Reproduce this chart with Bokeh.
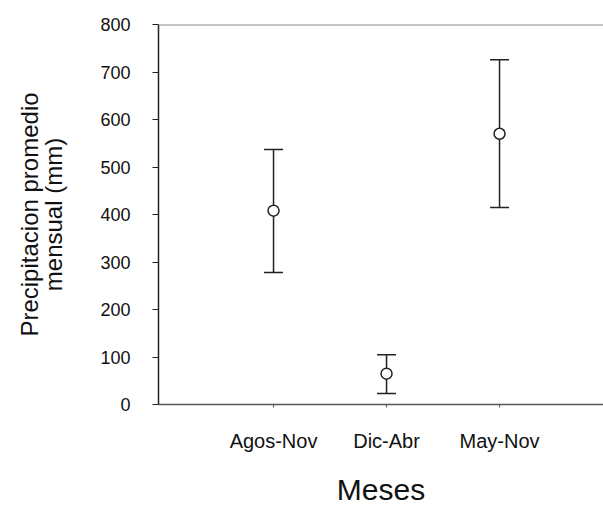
from bokeh.plotting import figure
from bokeh.models import Range1d, FixedTicker, Whisker, TeeHead, ColumnDataSource, Span
from bokeh.embed import file_html
from bokeh.resources import INLINE
import numpy as np

categories = ["Agos-Nov", "Dic-Abr", "May-Nov"]
means = [408, 65, 570]
upper = [537, 105, 726]
lower = [278, 23, 415]
y_ticks = [0, 100, 200, 300, 400, 500, 600, 700, 800]

xpos = list(np.arange(1, len(categories) + 1))
src = ColumnDataSource(dict(x=xpos, y=means, upper=upper, lower=lower))

FONT = "Liberation Sans"

p = figure(width=603, height=508, output_backend="svg", toolbar_location=None,
           x_range=Range1d(-0.018, 3.92), y_range=Range1d(0, 800),
           min_border_left=158, min_border_right=0, min_border_top=24, min_border_bottom=104)
p.outline_line_color = None
p.grid.visible = False
p.background_fill_color = "white"
p.border_fill_color = "white"

w = Whisker(source=src, base="x", upper="upper", lower="lower",
            line_color="#222222", line_width=1.5,
            upper_head=TeeHead(size=19, line_color="#222222", line_width=1.5),
            lower_head=TeeHead(size=19, line_color="#222222", line_width=1.5))
p.add_layout(w)
p.scatter("x", "y", source=src, marker="circle", size=11, fill_color="white",
          line_color="#222222", line_width=1.5)

p.add_layout(Span(location=800, dimension="width", line_color="#8a8a8a", line_width=2))

xa = p.xaxis[0]
xa.ticker = FixedTicker(ticks=xpos)
xa.major_label_overrides = {int(i): c for i, c in zip(xpos, categories)}
xa.minor_tick_line_color = None
xa.major_tick_out = 3
xa.major_tick_in = 0
xa.axis_line_color = "#555555"
xa.axis_line_width = 1.5
xa.major_tick_line_color = "#555555"
xa.major_label_text_font = FONT
xa.major_label_text_font_size = "20px"
xa.major_label_text_color = "#111111"
xa.major_label_standoff = 22
xa.axis_label = "Meses"
xa.axis_label_text_font = FONT
xa.axis_label_text_font_size = "30px"
xa.axis_label_text_font_style = "normal"
xa.axis_label_text_color = "#111111"
xa.axis_label_standoff = 18

ya = p.yaxis[0]
ya.ticker = FixedTicker(ticks=y_ticks)
ya.minor_tick_line_color = None
ya.major_tick_out = 6
ya.major_tick_in = 0
ya.axis_line_color = "#222222"
ya.axis_line_width = 1.5
ya.major_tick_line_color = "#222222"
ya.major_label_text_font = FONT
ya.major_label_text_font_size = "18px"
ya.major_label_text_color = "#111111"
ya.major_label_standoff = 22
ya.axis_label = "Precipitacion promedio\nmensual (mm)"
ya.axis_label_text_font = FONT
ya.axis_label_text_font_size = "24px"
ya.axis_label_text_font_style = "normal"
ya.axis_label_text_color = "#111111"
ya.axis_label_text_line_height = 0.9
ya.axis_label_standoff = 30

open("out.html", "w").write(file_html(p, INLINE))
